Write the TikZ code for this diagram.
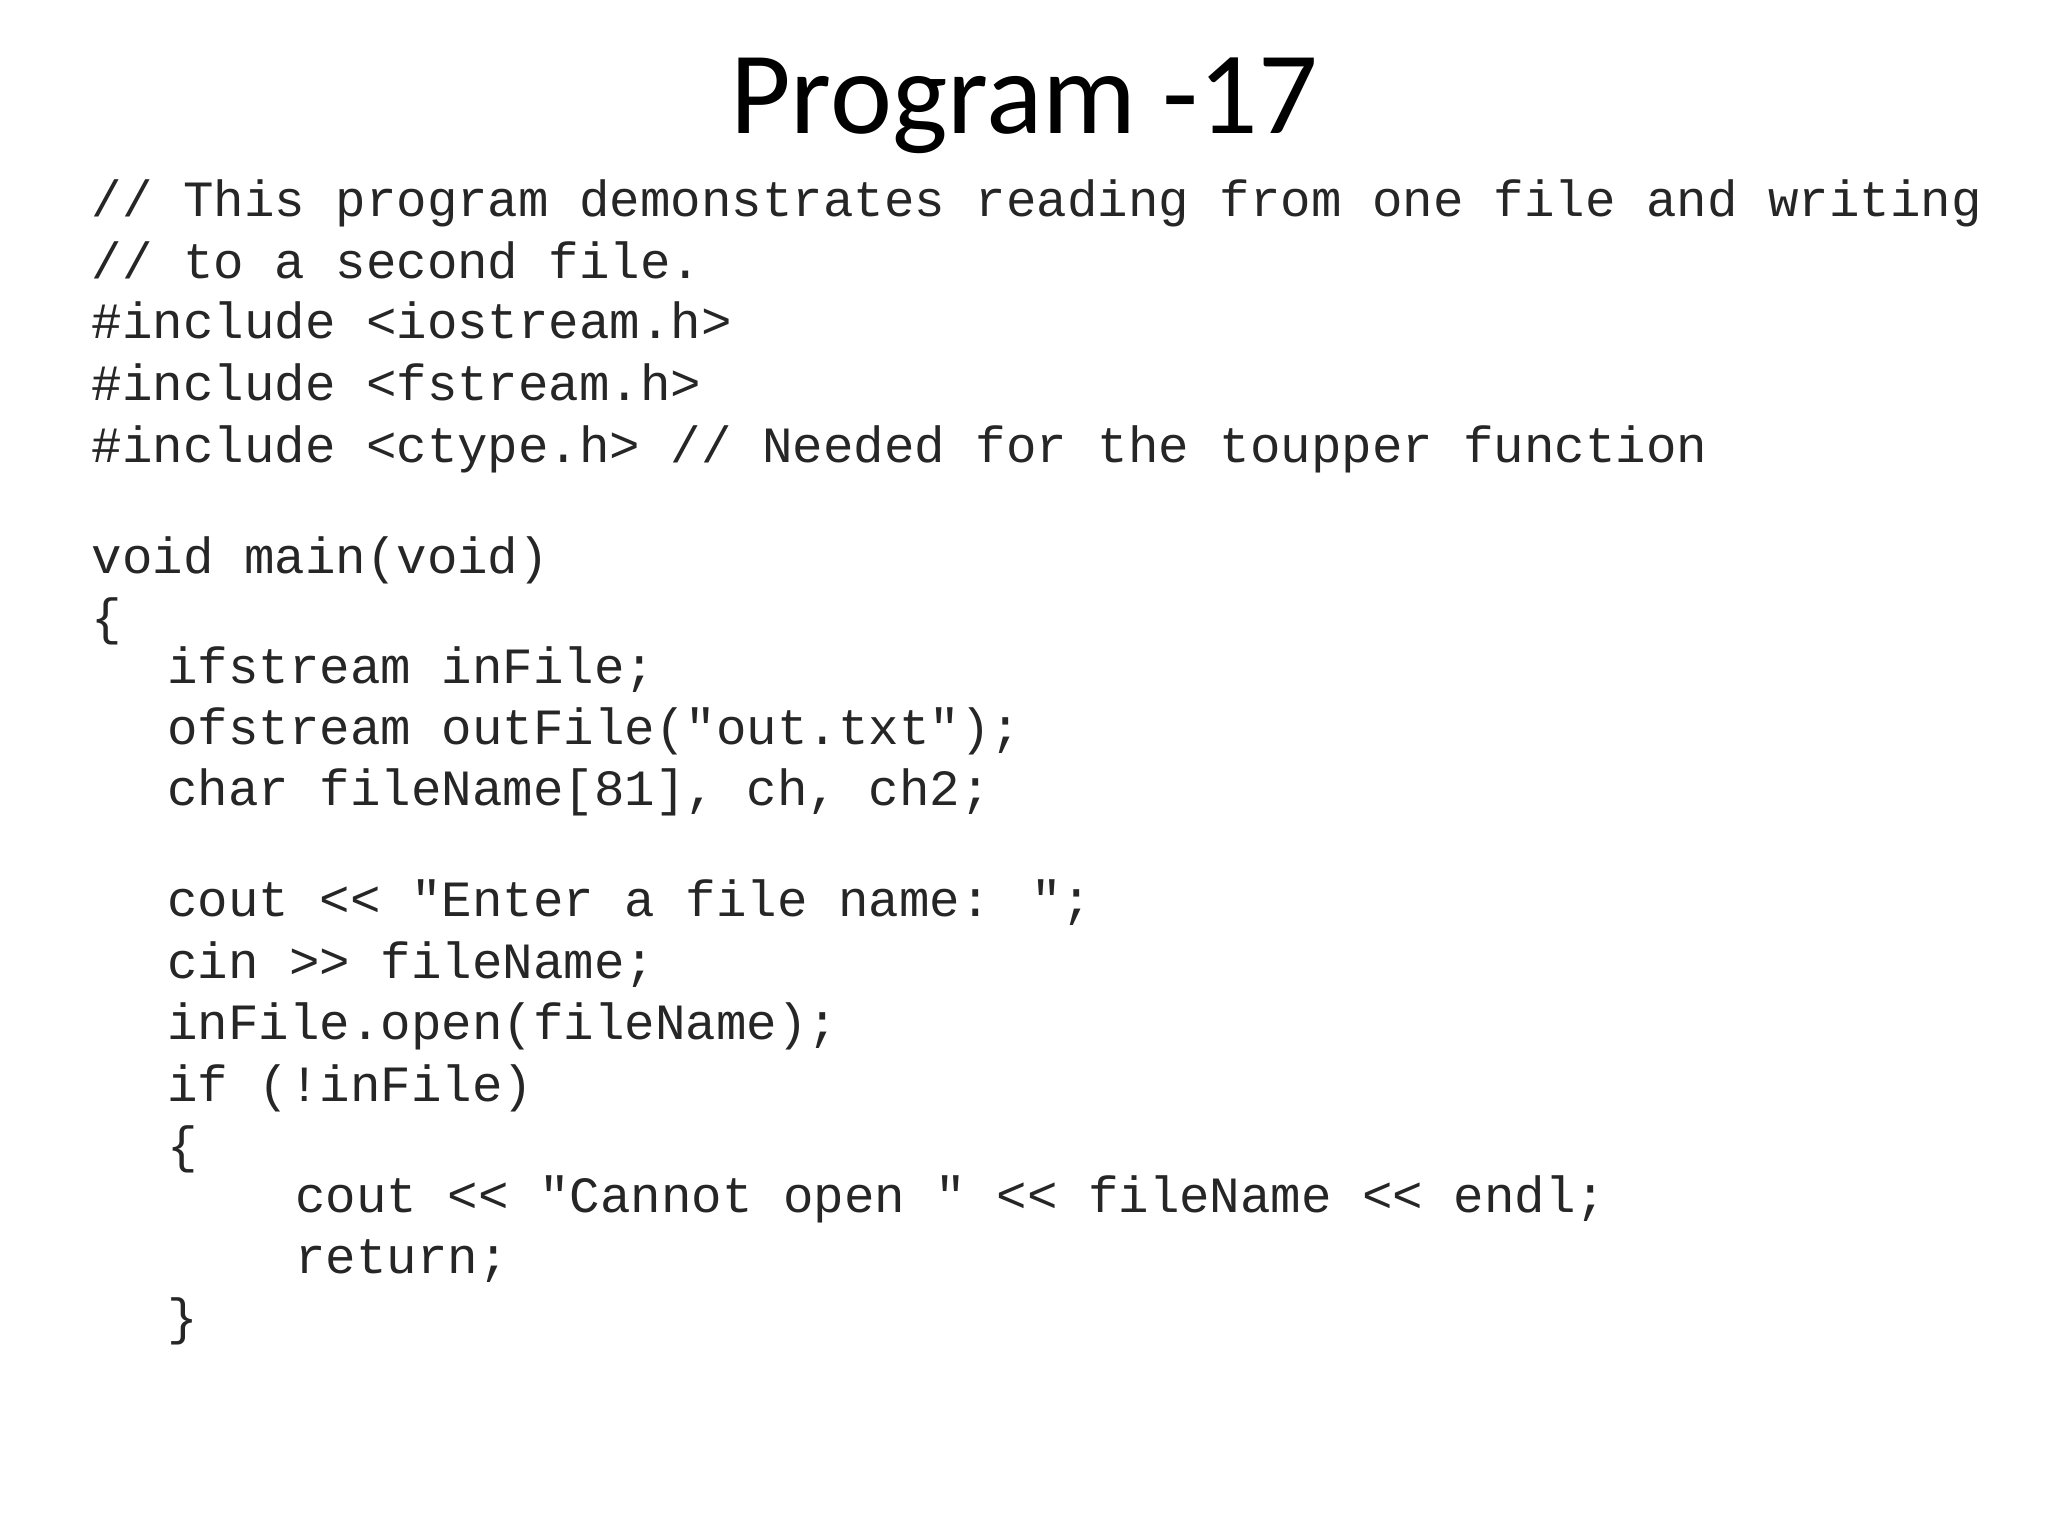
\documentclass[tikz,border=0pt]{standalone}
\usepackage{fontspec}
\setmainfont{Carlito}
\newfontfamily\codefont{Liberation Mono}[Ligatures=NoCommon]
\begin{document}
\begin{tikzpicture}[x=1pt,y=-1pt,
  code/.style={anchor=base west,inner sep=0pt,font=\codefont\fontsize{38.9}{40}\selectfont,text=black!85}]
\useasboundingbox (0,0) rectangle (1568,1176);
\node[font=\fontsize{90}{92}\selectfont,anchor=base] (title) at (784,102) {Program -17};
\node[code] (l1) at (70,166) {// This program demonstrates reading from one file and writing};
\node[code] (l2) at (70,213) {// to a second file.};
\node[code] (l3) at (70,259) {\#include <iostream.h>};
\node[code] (l4) at (70,307) {\#include <fstream.h>};
\node[code] (l5) at (70,354) {\#include <ctype.h> // Needed for the toupper function};
\node[code] (l6) at (70,439) {void main(void)};
\node[code] (l7) at (70,486) {\{};
\node[code] (l8) at (128,523) {ifstream inFile;};
\node[code] (l9) at (128,570) {ofstream outFile("out.txt");};
\node[code] (l10) at (128,617) {char fileName[81], ch, ch2;};
\node[code] (l11) at (128,702) {cout << "Enter a file name: ";};
\node[code] (l12) at (128,749) {cin >> fileName;};
\node[code] (l13) at (128,796) {inFile.open(fileName);};
\node[code] (l14) at (128,843) {if (!inFile)};
\node[code] (l15) at (128,890) {\{};
\node[code] (l16) at (226,928) {cout << "Cannot open " << fileName << endl;};
\node[code] (l17) at (226,975) {return;};
\node[code] (l18) at (128,1022) {\}};
\end{tikzpicture}
\end{document}
